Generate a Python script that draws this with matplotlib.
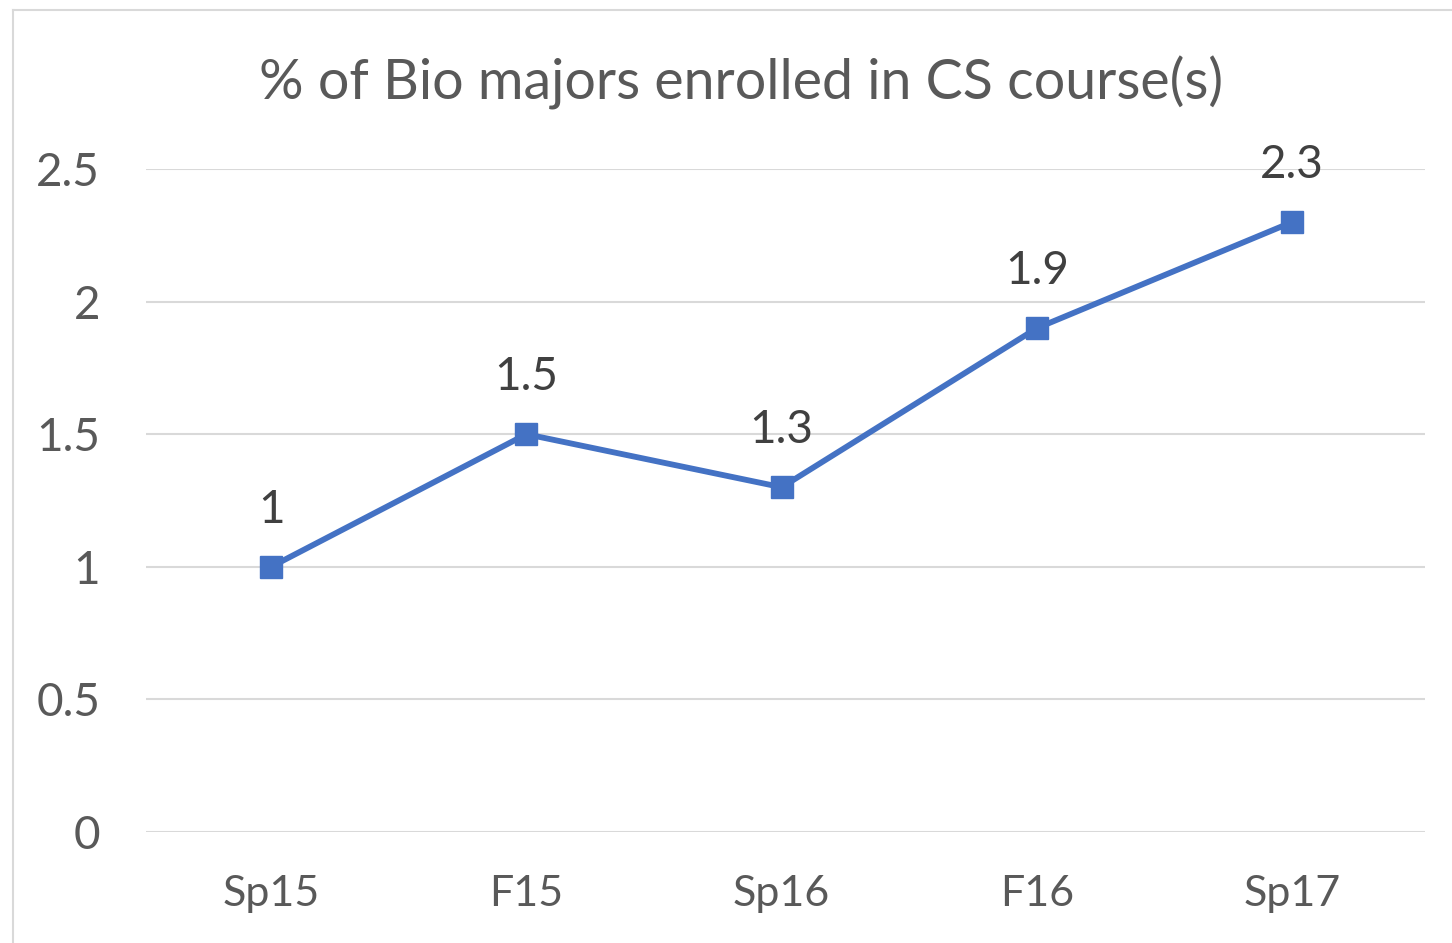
import matplotlib.pyplot as plt
from matplotlib.lines import Line2D

categories = ['Sp15', 'F15', 'Sp16', 'F16', 'Sp17']
values = [1.0, 1.5, 1.3, 1.9, 2.3]
yticks = [0, 0.5, 1, 1.5, 2, 2.5]
ytick_labels = ['0', '0.5', '1', '1.5', '2', '2.5']

plt.rcParams['font.family'] = ['Lato', 'DejaVu Sans']
text_color = '#595959'
line_color = '#4472C4'

W, H = 1452, 943
fig = plt.figure(figsize=(W / 100, H / 100), dpi=100)
ax = fig.add_axes([146 / W, (H - 832) / H, (1425 - 146) / W, (832 - 169) / H])

x = list(range(len(categories)))
ax.plot(x, values, color=line_color, linewidth=4.2, marker='s', markersize=16,
        markerfacecolor=line_color, markeredgecolor=line_color, zorder=3)
for xi, v in zip(x, values):
    ax.annotate(f'{v:g}', (xi, v), xytext=(0, 26), textcoords='offset points',
                ha='center', va='bottom', fontsize=33, color='#404040')

ax.set_xlim(-0.49, len(categories) - 0.48)
ax.set_ylim(0, 2.5)
ax.set_yticks(yticks)
ax.set_yticklabels(ytick_labels)
ax.set_xticks(x)
ax.set_xticklabels(categories)
ax.tick_params(axis='both', length=0, colors=text_color)
ax.tick_params(axis='y', pad=33, labelsize=33)
ax.tick_params(axis='x', pad=31, labelsize=31)
ax.yaxis.grid(True, color='#D9D9D9', linewidth=1.5)
for s in ax.spines.values():
    s.set_visible(False)
ax.axhline(0, color='#D9D9D9', linewidth=2, zorder=1)

fig.text(741 / W, 1 - 83 / H, '% of Bio majors enrolled in CS course(s)',
         ha='center', va='center', fontsize=40, color=text_color)

# chart border (cropped at right/bottom)
fig.add_artist(Line2D([13 / W, 13 / W], [0, 1 - 10 / H], color='#D9D9D9', linewidth=1.5))
fig.add_artist(Line2D([13 / W, 1], [1 - 10 / H, 1 - 10 / H], color='#D9D9D9', linewidth=1.5))

fig.savefig('out.png', dpi=100)
